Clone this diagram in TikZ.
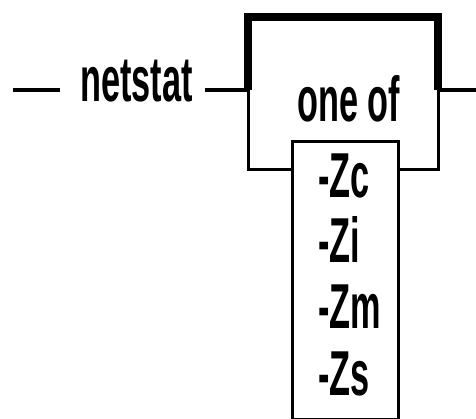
\documentclass[tikz,border=0pt]{standalone}
\usepackage{fontspec}
\newfontfamily\diagfont[FakeStretch=0.54]{Liberation Sans}
\begin{document}
\begin{tikzpicture}[x=1pt,y=1pt,
  lbl/.style={inner sep=0pt, anchor=base west, font=\diagfont\bfseries\fontsize{63.5}{70}\selectfont},
  rail/.style={line width=4pt},
  thickrail/.style={line width=8pt, line join=miter},
  thinrail/.style={line width=3pt, line join=miter},
  optbox/.style={draw, line width=2.5pt, inner sep=0pt, anchor=north west, minimum width=106pt, minimum height=277pt}]
\useasboundingbox (0,0) rectangle (476,-419);
% coordinates of the rails
\coordinate (start) at (13,-90);
\coordinate (startend) at (60,-90);
\coordinate (afternet) at (205,-90);
\coordinate (lj) at (248,-90);
\coordinate (rj) at (438,-90);
\coordinate (tl) at (248,-17.5);
\coordinate (tr) at (438,-17.5);
\coordinate (bl) at (248,-170);
\coordinate (br) at (438,-170);
\coordinate (exit) at (476,-90);
% texts
\node[lbl] (netstat) at (80,-102) {netstat};
\node[lbl] (oneof) at (297,-122) {one of};
\node[optbox] (box) at (291,-140.5) {};
\node[lbl] (zc) at (318,-198) {-Zc};
\node[lbl] (zi) at (318,-263) {-Zi};
\node[lbl] (zm) at (318,-328) {-Zm};
\node[lbl] (zs) at (318,-395) {-Zs};
% rails
\draw[rail] (start) -- (startend);
\draw[rail] (afternet) -- (lj);
\draw[thickrail] (lj) -- (tl) -- (tr) -- (rj);
\draw[rail] (rj) -- (exit);
\draw[thinrail] (lj) -- (bl) -- (box.west |- bl);
\draw[thinrail] (box.east |- br) -- (br) -- (rj);
\end{tikzpicture}
\end{document}
